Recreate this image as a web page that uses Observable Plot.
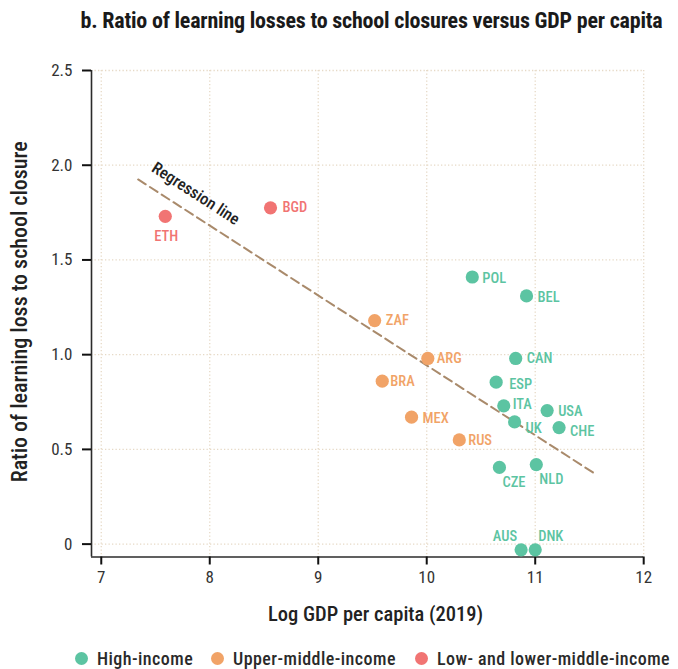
<!DOCTYPE html>
<html>
<head>
<meta charset="utf-8">
<script src="https://cdn.jsdelivr.net/npm/d3@7"></script>
<script src="https://cdn.jsdelivr.net/npm/@observablehq/plot@0.6"></script>
<style>
  body { margin: 0; background: #fff; }
  #chart {
    position: relative; width: 678px; height: 669px; overflow: hidden;
    font-family: "Roboto Condensed", "Liberation Sans Narrow", "DejaVu Sans Condensed", Roboto, sans-serif;
    font-stretch: condensed; color: #222;
  }
  #title {
    position: absolute; left: 0; width: 743px; top: 8px;
    text-align: center; font-size: 22px; font-weight: 700; color: #1a1a1a;
    white-space: nowrap; letter-spacing: -0.2px;
  }
  #plot { position: absolute; left: 0; top: 45px; }
  #legend { position: absolute; left: 0; top: 650px; width: 678px; height: 17px; }
  .item { position: absolute; top: 0; display: flex; align-items: center; height: 17px; line-height: 17px;
          font-size: 18px; font-weight: 500; color: #2a2a2a; letter-spacing: 0.45px; white-space: nowrap; }
  .sw { width: 13px; height: 13px; border-radius: 50%; margin-right: 9px; flex: none; }
</style>
</head>
<body>
<div id="chart">
  <div id="title">b. Ratio of learning losses to school closures versus GDP per capita</div>
  <div id="plot"></div>
  <div id="legend"></div>
</div>
<script>
// Countries, log GDP per capita (2019) and ratio of learning loss to school closure
const countries   = ["ETH", "BGD", "POL", "BEL", "ZAF", "ARG", "CAN", "BRA", "ESP", "ITA",
                     "USA", "MEX", "UK", "CHE", "RUS", "CZE", "NLD", "AUS", "DNK"];
const gdpLog      = [7.59, 8.56, 10.42, 10.92, 9.52, 10.01, 10.82, 9.59, 10.64, 10.71,
                     11.11, 9.86, 10.81, 11.22, 10.30, 10.67, 11.01, 10.87, 11.00];
const lossRatio   = [1.73, 1.775, 1.41, 1.31, 1.18, 0.98, 0.98, 0.86, 0.855, 0.73,
                     0.705, 0.67, 0.645, 0.615, 0.55, 0.405, 0.42, -0.03, -0.03];
const incomeGroup = ["Low- and lower-middle-income", "Low- and lower-middle-income",
                     "High-income", "High-income", "Upper-middle-income", "Upper-middle-income",
                     "High-income", "Upper-middle-income", "High-income", "High-income",
                     "High-income", "Upper-middle-income", "High-income", "High-income",
                     "Upper-middle-income", "High-income", "High-income", "High-income", "High-income"];

const groups      = ["High-income", "Upper-middle-income", "Low- and lower-middle-income"];
const groupColors = ["#5cc4a2", "#f1a367", "#f17473"];

// Fitted regression line, end points
const regressionX = [7.34, 11.56];
const regressionY = [1.925, 0.368];

const xTicks  = [7, 8, 9, 10, 11, 12];
const yTicks  = [0, 0.5, 1, 1.5, 2, 2.5];
const xDomain = [6.91, 12];
const yDomain = [-0.068, 2.5];

const xLabel = "Log GDP per capita (2019)";
const yLabel = "Ratio of learning loss to school closure";
const regressionLabel = "Regression line";

// Where each country's label sits relative to its dot
const labelPlacement = {
  ETH: {anchor: "middle", dx: 1, dy: 20},
  BGD: {dx: 12, dy: 0},
  POL: {dx: 10, dy: 1},
  BEL: {dx: 11, dy: 1},
  ZAF: {dx: 11, dy: 0},
  ARG: {dx: 9, dy: 0},
  CAN: {dx: 11, dy: 0},
  BRA: {dx: 8, dy: 0},
  ESP: {dx: 13, dy: 2},
  ITA: {dx: 9, dy: -1},
  USA: {dx: 11, dy: 1},
  MEX: {dx: 11, dy: 1},
  UK:  {dx: 11, dy: 6},
  CHE: {dx: 11, dy: 4},
  RUS: {dx: 9, dy: 0},
  CZE: {dx: 3, dy: 15},
  NLD: {dx: 3, dy: 15},
  AUS: {anchor: "end", dx: -4, dy: -13},
  DNK: {dx: 3, dy: -13}
};

const fontStack = '"Roboto Condensed", "Liberation Sans Narrow", "DejaVu Sans Condensed", Roboto, sans-serif';
const gridColor = "#e6d9c6";

const data = countries.map((c, i) => ({
  country: c, gdp: gdpLog[i], ratio: lossRatio[i], group: incomeGroup[i]
}));
const regression = regressionX.map((x, i) => ({x, y: regressionY[i]}));

// Regression label: centred above the line, rotated to its slope
const regMid = {x: 7.87, y: 1.85};

const labelMarks = data.map(d => {
  const p = labelPlacement[d.country];
  return Plot.text([d], {
    x: "gdp", y: "ratio", text: "country",
    fill: "group",
    textAnchor: p.anchor || "start",
    dx: p.dx, dy: p.dy,
    fontSize: 14.5, fontWeight: 500
  });
});

const chart = Plot.plot({
  width: 678,
  height: 590,
  marginTop: 25,
  marginBottom: 78.5,
  marginLeft: 91,
  marginRight: 34.8,
  style: {fontFamily: fontStack, fontStretch: "condensed", background: "transparent", overflow: "visible"},
  x: {domain: xDomain},
  y: {domain: yDomain},
  color: {domain: groups, range: groupColors},
  marks: [
    Plot.gridX(xTicks, {stroke: gridColor, strokeOpacity: 1, strokeWidth: 1.3, strokeDasharray: "1.3,2.2"}),
    Plot.gridY(yTicks, {stroke: gridColor, strokeOpacity: 1, strokeWidth: 1.3, strokeDasharray: "1.3,2.2"}),
    Plot.ruleX([xDomain[0]], {stroke: "#2b2b2b", strokeWidth: 1.6}),
    Plot.ruleY([yDomain[0]], {stroke: "#2b2b2b", strokeWidth: 1.6}),
    Plot.axisX({ticks: xTicks, tickSize: 8, tickPadding: 6, label: null,
                tickFormat: d => String(d),
                stroke: "#111", strokeWidth: 2, fill: "#333", fontSize: 17}),
    Plot.axisY({ticks: yTicks, tickSize: 9, tickPadding: 10, label: null,
                tickFormat: d => d === 0 ? "0" : d.toFixed(1),
                stroke: "#111", strokeWidth: 2, fill: "#333", fontSize: 17}),
    Plot.text([xLabel], {text: d => d, frameAnchor: "bottom", textAnchor: "middle", lineAnchor: "middle",
                         dx: 8, dy: 57, fontSize: 20.5, fontWeight: 500, fill: "#222"}),
    Plot.text([yLabel], {text: d => d, frameAnchor: "left", textAnchor: "middle", lineAnchor: "middle",
                         rotate: -90, dx: -72, dy: -2, fontSize: 22, fontWeight: 500, fill: "#222"}),
    Plot.line(regression, {x: "x", y: "y", stroke: "#a98a6b", strokeWidth: 2, strokeDasharray: "9,5"}),
    Plot.text([regMid], {x: "x", y: "y", text: () => regressionLabel, rotate: 32.8,
                         textAnchor: "middle", lineAnchor: "middle",
                         fontSize: 16.5, fontWeight: 500, fill: "#222"}),
    Plot.dot(data, {x: "gdp", y: "ratio", fill: "group", r: 6.6}),
    ...labelMarks
  ]
});
document.getElementById("plot").append(chart);

// Legend with round swatches
const legendLeft = [75, 211, 415];
const legend = document.getElementById("legend");
groups.forEach((g, i) => {
  const item = document.createElement("div");
  item.className = "item";
  item.style.left = legendLeft[i] + "px";
  const sw = document.createElement("span");
  sw.className = "sw";
  sw.style.background = groupColors[i];
  const label = document.createElement("span");
  label.textContent = g;
  item.append(sw, label);
  legend.append(item);
});
</script>
</body>
</html>
